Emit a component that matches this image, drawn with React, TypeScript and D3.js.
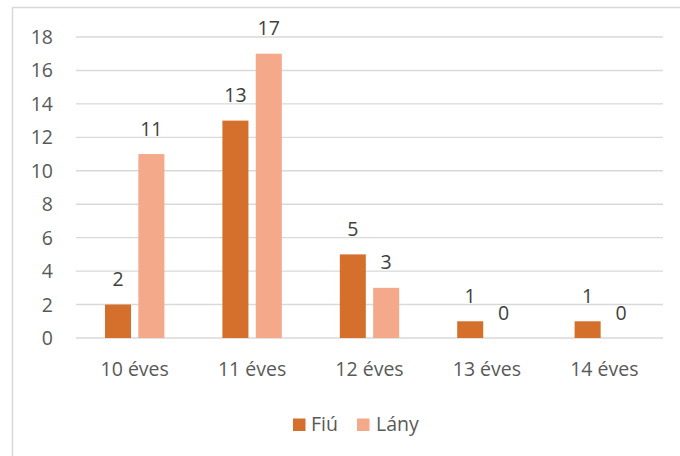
import React from "react";
import * as d3 from "d3";

const categories = ["10 éves", "11 éves", "12 éves", "13 éves", "14 éves"];
const seriesNames = ["Fiú", "Lány"];
const fiuValues = [2, 13, 5, 1, 1];
const lanyValues = [11, 17, 3, 0, 0];
const yTicks = [0, 2, 4, 6, 8, 10, 12, 14, 16, 18];
const colors = ["#D5702C", "#F3A98A"];

const W = 680;
const H = 456;
const FONT = "'Open Sans', sans-serif";
const TEXT = "#595959";

export default function App() {
  const values = [fiuValues, lanyValues];
  const x0 = d3.scaleBand<string>().domain(categories).range([76, 663]).paddingInner(0).paddingOuter(0);
  const bw = x0.bandwidth();
  const x1 = d3
    .scaleBand<string>()
    .domain(seriesNames)
    .range([bw / 2 - 29.7, bw / 2 + 29.7])
    .paddingInner(0.22)
    .paddingOuter(0);
  const y = d3.scaleLinear().domain([0, 18]).range([338, 37]);

  return (
    <div style={{ position: "absolute", left: 0, top: 0 }}>
      <svg width={W} height={H} style={{ display: "block" }}>
        <rect x={0} y={0} width={W} height={H} fill="#fff" />
        {/* chart border */}
        <line x1={12} y1={7.5} x2={W} y2={7.5} stroke="#d9d9d9" strokeWidth={1.5} />
        <line x1={12.5} y1={7} x2={12.5} y2={H} stroke="#d9d9d9" strokeWidth={1.5} />
        {/* gridlines */}
        {yTicks.map((t) => (
          <line key={t} x1={76} x2={663} y1={y(t)} y2={y(t)} stroke="#d9d9d9" strokeWidth={1.4} />
        ))}
        {/* y tick labels */}
        {yTicks.map((t) => (
          <text
            key={"l" + t}
            x={53}
            y={y(t)}
            dy="0.36em"
            textAnchor="end"
            fontFamily={FONT}
            fontSize={19.5}
            fill={TEXT}
          >
            {t}
          </text>
        ))}
        {/* bars */}
        {categories.map((c, ci) => (
          <g key={c} transform={`translate(${x0(c)},0)`}>
            {seriesNames.map((s, si) => {
              const v = values[si][ci];
              const bx = x1(s)!;
              return (
                <g key={s}>
                  {v > 0 && (
                    <rect x={bx} y={y(v)} width={x1.bandwidth()} height={y(0) - y(v)} fill={colors[si]} />
                  )}
                  <text
                    x={bx + x1.bandwidth() / 2}
                    y={y(v) - 18.5}
                    textAnchor="middle"
                    fontFamily={FONT}
                    fontSize={19.5}
                    fill={"#404040"}
                  >
                    {v}
                  </text>
                </g>
              );
            })}
            <text
              x={bw / 2}
              y={376}
              textAnchor="middle"
              fontFamily={FONT}
              fontSize={19.5}
              fill={TEXT}
            >
              {c}
            </text>
          </g>
        ))}
        {/* legend */}
        <g>
          <rect x={293} y={418.5} width={12.5} height={12.5} fill={colors[0]} />
          <text x={311} y={430.5} fontFamily={FONT} fontSize={19.5} fill={TEXT}>
            {seriesNames[0]}
          </text>
          <rect x={357} y={418.5} width={12.5} height={12.5} fill={colors[1]} />
          <text x={376} y={430.5} fontFamily={FONT} fontSize={19.5} fill={TEXT}>
            {seriesNames[1]}
          </text>
        </g>
      </svg>
    </div>
  );
}
